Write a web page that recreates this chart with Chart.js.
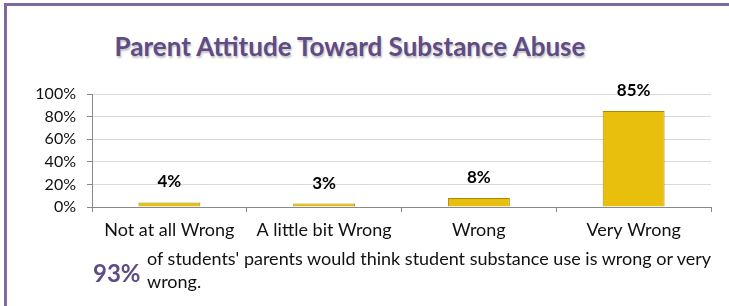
<!DOCTYPE html>
<html>
<head>
<meta charset="utf-8">
<script src="https://cdn.jsdelivr.net/npm/chart.js@4"></script>
<style>
  body { margin: 0; background: #fff; }
  #wrap { position: relative; width: 729px; height: 306px; overflow: hidden; }
  #frame {
    position: absolute; left: 4px; top: 3px; right: -10px; bottom: -10px;
    border-top: 3px solid #7d6aa0; border-left: 3px solid #7d6aa0;
  }
  #title {
    position: absolute; left: 0; top: 30px; width: 700px; text-align: center;
    font: bold 26px Lato, sans-serif; color: #5f4b86;
    text-shadow: 1px 2px 2px rgba(0,0,0,0.25);
  }
  #note {
    position: absolute; left: 93px; top: 247px; width: 636px;
    font: 18px Lato, sans-serif; color: #111;
  }
  #note .big {
    position: absolute; left: 0; top: 11px;
    font: bold 24px Lato, sans-serif; color: #5f4b86;
  }
  #note .txt { position: absolute; left: 54px; top: 0; line-height: 23px; white-space: nowrap; }
  canvas { position: absolute; left: 0; top: 0; }
</style>
</head>
<body>
<div id="wrap">
  <div id="frame"></div>
  <div id="title">Parent Attitude Toward Substance Abuse</div>
  <canvas id="chart" width="729" height="306"></canvas>
  <div id="note">
    <span class="big">93%</span>
    <span class="txt">of students' parents would think student substance use is wrong or very<br>wrong.</span>
  </div>
</div>
<script>
const categories = ["Not at all Wrong", "A little bit Wrong", "Wrong", "Very Wrong"];
const values = [4, 3, 8, 85];
const yTicks = [0, 20, 40, 60, 80, 100];

// Подписи над столбцами
const barLabels = {
  id: "barLabels",
  afterDatasetsDraw(chart) {
    const ctx = chart.ctx;
    const meta = chart.getDatasetMeta(0);
    ctx.save();
    ctx.font = "bold 17px Lato, sans-serif";
    ctx.fillStyle = "#000";
    ctx.textAlign = "center";
    ctx.textBaseline = "bottom";
    meta.data.forEach((bar, i) => {
      ctx.fillText(values[i] + "%", bar.x, bar.y - 12);
    });
    ctx.restore();
  },
};

// Объёмная заливка столбца
function barFill(context) {
  const { chart } = context;
  const el = chart.getDatasetMeta(0).data[context.dataIndex];
  if (!el || !isFinite(el.x)) return "#e8bf0c";
  const half = el.width / 2;
  const g = chart.ctx.createLinearGradient(el.x - half, 0, el.x + half, 0);
  g.addColorStop(0, "#d9ae00");
  g.addColorStop(0.12, "#f0c814");
  g.addColorStop(0.88, "#eec412");
  g.addColorStop(1, "#c99f00");
  return g;
}

new Chart(document.getElementById("chart"), {
  type: "bar",
  data: {
    labels: categories,
    datasets: [
      {
        data: values,
        backgroundColor: barFill,
        borderColor: "#a88a00",
        borderWidth: 1,
        barPercentage: 0.4,
        categoryPercentage: 1,
      },
    ],
  },
  options: {
    responsive: false,
    animation: false,
    layout: { padding: { left: 0, right: 18, top: 94, bottom: 58 } },
    plugins: { legend: { display: false }, tooltip: { enabled: false } },
    scales: {
      x: {
        afterFit: (s) => { s.height = 41; },
        grid: { display: true, drawOnChartArea: false, offset: true, color: "#888", tickLength: 5 },
        border: { color: "#888" },
        ticks: { color: "#111", font: { family: "Lato", size: 18 }, padding: 7, maxRotation: 0 },
      },
      y: {
        min: 0,
        max: 100,
        afterFit: (s) => { s.width = 92; },
        afterBuildTicks: (s) => { s.ticks = yTicks.map((v) => ({ value: v })); },
        grid: { color: "#d9d9d9", tickLength: 5, tickColor: "#888" },
        border: { color: "#888" },
        ticks: {
          color: "#111",
          font: { family: "Lato", size: 16 },
          padding: 11,
          callback: (v) => v + "%",
        },
      },
    },
  },
  plugins: [barLabels],
});
</script>
</body>
</html>
